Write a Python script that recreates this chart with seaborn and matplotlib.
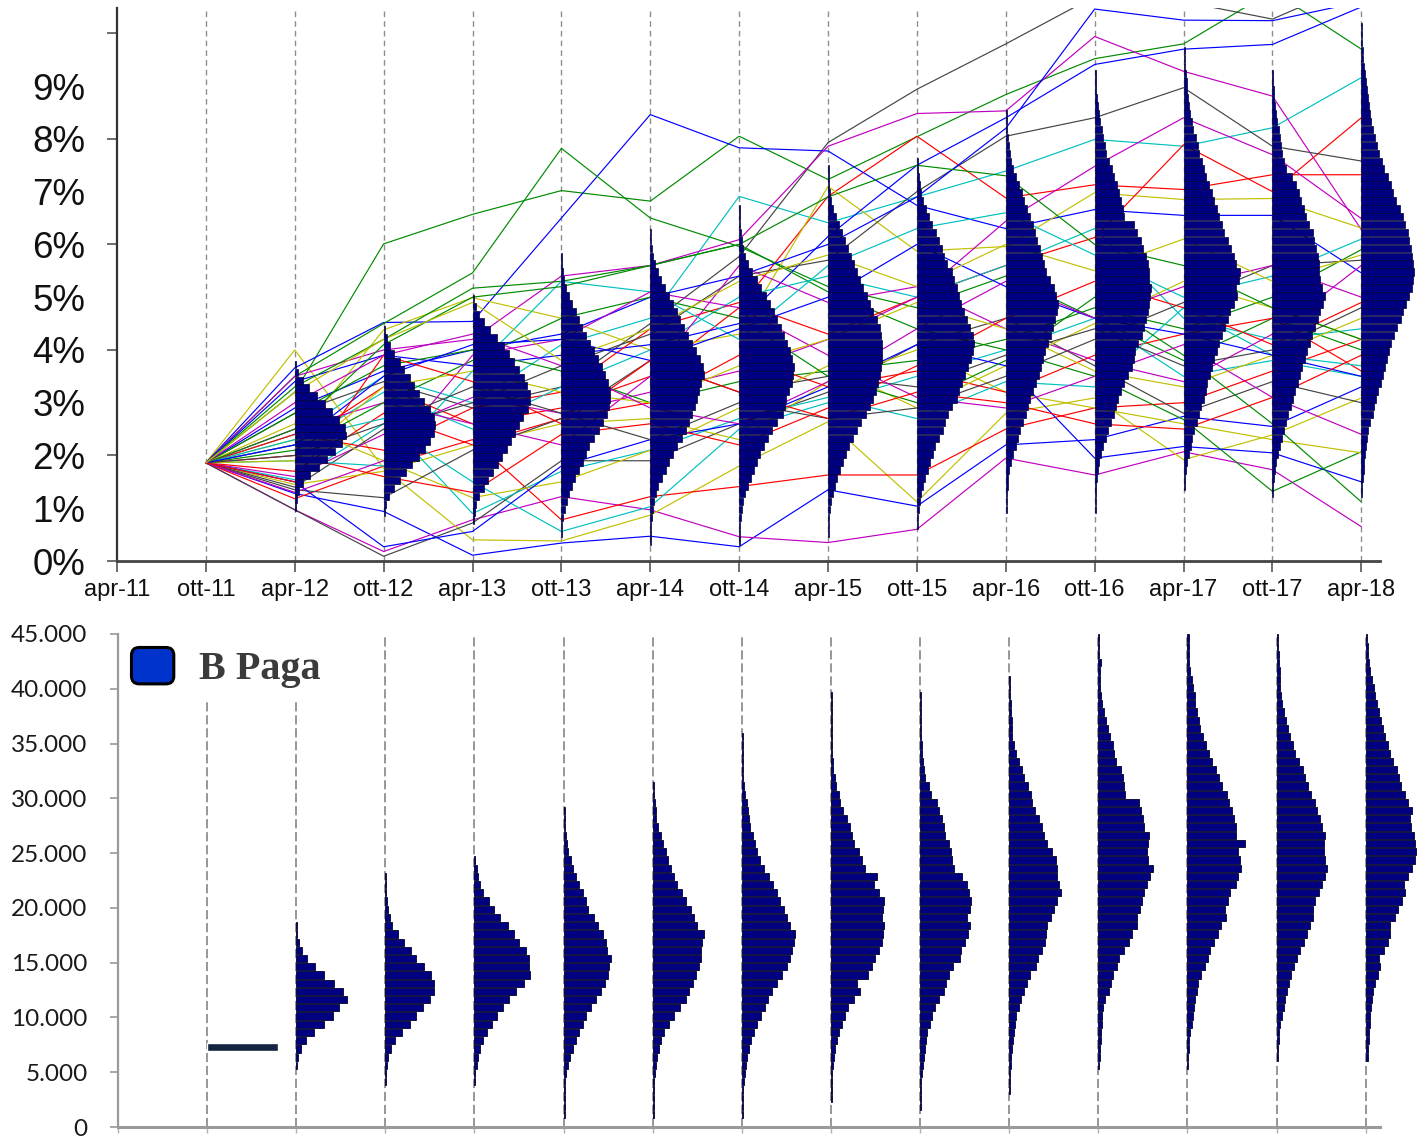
import matplotlib
matplotlib.use("Agg")
import matplotlib.pyplot as plt
from matplotlib.patches import FancyBboxPatch, Patch
from matplotlib.legend_handler import HandlerPatch
import numpy as np
import pandas as pd
import seaborn as sns

# ---------------- data ----------------
dates = ["apr-11", "ott-11", "apr-12", "ott-12", "apr-13", "ott-13", "apr-14", "ott-14",
         "apr-15", "ott-15", "apr-16", "ott-16", "apr-17", "ott-17", "apr-18"]
start_rate = 1.86  # every path starts here at ott-11

# simulated rate paths (%), values at apr-12 ... apr-18
paths_blue = [
    [1.28, 0.94, 0.11, 0.34, 0.47, 0.27, 1.35, 1.04, 2.20, 2.30, 2.74, 2.55, 3.30],
    [3.66, 4.52, 4.54, 6.50, 8.46, 7.83, 7.77, 6.74, 6.30, 6.66, 6.55, 6.55, 5.46],
    [3.40, 3.90, 3.70, 3.90, 4.10, 4.50, 6.15, 7.50, 8.40, 9.41, 9.70, 9.79, 10.5],
    [2.90, 3.60, 4.00, 4.30, 5.00, 5.40, 6.00, 6.90, 8.20, 10.46, 10.25, 10.24, 10.6],
    [1.50, 0.27, 0.56, 1.80, 2.30, 2.60, 3.30, 4.10, 3.70, 1.95, 2.17, 2.05, 1.50],
    [2.20, 3.50, 4.10, 4.20, 3.80, 4.40, 5.00, 6.00, 5.20, 4.60, 4.30, 3.90, 3.50],
]
paths_green = [
    [3.20, 6.01, 6.57, 7.02, 6.82, 8.05, 7.23, 8.04, 8.84, 9.52, 9.80, 10.8, 9.70],
    [3.50, 4.50, 5.46, 7.82, 6.50, 5.96, 5.20, 4.80, 5.40, 4.60, 3.80, 4.60, 4.00],
    [3.30, 4.20, 5.17, 5.30, 5.60, 6.00, 5.10, 4.40, 4.00, 3.50, 2.68, 1.32, 2.07],
    [2.80, 3.70, 4.00, 3.60, 3.00, 3.40, 3.60, 3.80, 4.20, 4.80, 4.40, 5.00, 5.90],
    [2.10, 3.00, 3.80, 4.60, 5.00, 4.60, 3.50, 3.00, 3.80, 5.00, 3.90, 2.60, 1.12],
    [2.50, 4.10, 5.00, 5.20, 5.60, 6.00, 6.90, 7.50, 7.30, 6.00, 5.60, 4.80, 4.20],
]
paths_red = [
    [2.20, 3.30, 2.60, 2.90, 3.50, 4.80, 6.91, 8.05, 6.88, 7.13, 7.04, 7.32, 7.32],
    [1.18, 1.80, 2.30, 0.78, 1.22, 1.41, 1.63, 1.63, 2.50, 2.90, 3.00, 3.60, 4.20],
    [2.40, 2.10, 2.90, 3.20, 4.40, 4.90, 4.30, 5.00, 5.60, 6.13, 7.89, 7.00, 8.40],
    [1.70, 2.80, 2.20, 2.70, 3.00, 3.90, 3.30, 3.60, 3.20, 3.90, 4.30, 4.60, 3.60],
    [2.00, 1.60, 1.30, 2.40, 2.60, 2.20, 2.90, 3.70, 4.60, 5.30, 4.80, 4.10, 4.90],
    [1.50, 3.90, 3.40, 2.60, 3.80, 3.20, 2.70, 3.20, 3.00, 2.60, 2.50, 3.10, 3.90],
]
paths_cyan = [
    [2.40, 3.50, 3.00, 4.10, 4.60, 6.91, 6.41, 6.90, 7.39, 7.99, 7.86, 8.21, 9.16],
    [1.54, 2.60, 1.50, 0.56, 1.03, 2.50, 3.00, 3.50, 4.00, 4.60, 3.50, 3.80, 3.50],
    [2.20, 3.20, 2.50, 3.30, 4.00, 5.00, 5.40, 5.00, 5.60, 6.30, 4.60, 4.20, 4.40],
    [2.30, 2.70, 0.90, 1.70, 2.10, 2.70, 3.10, 2.70, 3.40, 3.30, 4.80, 3.90, 3.70],
    [1.90, 1.80, 3.60, 5.30, 5.10, 4.20, 5.60, 6.30, 6.60, 5.80, 5.00, 5.40, 6.10],
]
paths_magenta = [
    [0.97, 0.18, 0.78, 1.22, 0.97, 0.46, 0.35, 0.60, 1.95, 1.63, 2.07, 1.73, 0.65],
    [3.50, 4.00, 4.20, 5.40, 5.60, 6.09, 7.86, 8.48, 8.53, 9.94, 9.28, 8.81, 6.28],
    [1.60, 2.40, 3.10, 2.80, 3.20, 3.60, 4.20, 5.00, 6.44, 7.48, 8.40, 7.70, 6.49],
    [2.50, 3.00, 2.60, 2.20, 3.50, 5.60, 4.90, 5.20, 4.40, 3.80, 3.40, 4.30, 5.60],
    [1.30, 1.90, 3.90, 4.20, 5.10, 4.80, 3.90, 3.10, 2.90, 3.50, 4.10, 3.10, 2.40],
    [3.00, 3.90, 4.30, 3.70, 2.90, 2.60, 3.40, 4.40, 5.30, 4.60, 5.20, 5.60, 5.00],
]
paths_yellow = [
    [4.00, 1.76, 0.40, 0.38, 0.87, 1.80, 2.64, 1.12, 2.80, 3.09, 1.92, 2.39, 3.09],
    [2.30, 4.38, 4.99, 4.60, 4.00, 4.30, 7.10, 5.87, 5.96, 6.98, 6.85, 6.87, 6.31],
    [1.45, 1.70, 2.20, 2.60, 2.70, 2.30, 3.40, 4.00, 3.20, 2.90, 2.60, 2.30, 2.05],
    [2.60, 1.90, 1.20, 1.50, 2.10, 2.90, 3.70, 2.90, 3.70, 4.50, 5.30, 4.80, 4.20],
    [1.90, 3.30, 3.60, 3.20, 3.00, 3.70, 4.20, 4.90, 4.40, 3.60, 3.30, 3.90, 4.60],
    [3.20, 4.20, 4.90, 3.80, 4.40, 5.30, 5.80, 5.20, 6.00, 5.50, 6.10, 5.30, 5.80],
]
paths_black = [
    [2.80, 3.40, 2.90, 3.30, 4.50, 5.77, 7.93, 8.94, 9.80, 10.7, 10.6, 10.27, 11.0],
    [0.97, 0.09, 0.72, 1.90, 1.90, 2.60, 3.20, 4.10, 4.60, 3.70, 2.80, 3.40, 3.00],
    [1.40, 2.50, 3.00, 3.70, 4.30, 5.40, 5.70, 7.00, 8.05, 8.40, 8.97, 7.86, 7.58],
    [1.35, 1.20, 2.10, 2.70, 3.80, 3.20, 3.50, 3.30, 3.90, 4.40, 3.70, 4.00, 4.80],
    [2.00, 2.60, 3.30, 2.80, 2.30, 3.00, 2.70, 2.90, 3.50, 4.20, 4.90, 5.60, 5.70],
]

# rate histograms (counts per 0.15% bin, low -> high), apr-12 ... apr-18
rate_bin = 0.15
rate_lo = [0.95, 0.85, 0.70, 0.45, 0.30, 0.30, 0.45, 0.60, 0.90, 0.90, 1.35, 1.20, 1.20]
rate_apr12 = [1, 2, 4, 8, 15, 24, 32, 40, 47, 51, 50, 44, 37, 30, 22, 14, 8, 3, 1]
rate_ott12 = [1, 2, 5, 10, 16, 22, 28, 35, 41, 46, 50, 51, 50, 46, 40, 35, 30, 26, 20, 16, 10, 6, 3, 1]
rate_apr13 = [1, 2, 3, 6, 11, 15, 20, 25, 29, 34, 38, 42, 46, 50, 55, 57, 57, 54, 51, 46, 41, 36, 31, 24,
              17, 11, 6, 3, 1]
rate_ott13 = [1, 1, 2, 4, 6, 8, 11, 14, 18, 22, 25, 28, 33, 38, 42, 46, 48, 49, 49, 47, 44, 41, 37, 33,
              29, 25, 21, 18, 15, 11, 8, 5, 3, 2, 1, 1]
rate_apr14 = [1, 1, 1, 2, 3, 4, 6, 8, 12, 16, 19, 23, 27, 32, 36, 39, 42, 45, 47, 49, 51, 54, 53, 50,
              46, 42, 38, 34, 30, 27, 23, 19, 15, 11, 8, 5, 3, 2, 1, 1]
rate_ott14 = [1, 1, 1, 2, 3, 4, 6, 9, 12, 15, 18, 21, 25, 29, 33, 38, 44, 46, 47, 50, 53, 54, 55, 53,
              51, 48, 45, 42, 38, 35, 31, 27, 22, 18, 13, 9, 6, 4, 3, 2, 1, 1, 1]
rate_apr15 = [1, 1, 1, 2, 3, 5, 7, 9, 12, 15, 18, 21, 25, 29, 33, 38, 42, 45, 48, 50, 52, 53, 54, 54,
              54, 53, 52, 49, 45, 42, 39, 35, 32, 29, 26, 23, 20, 17, 14, 11, 8, 5, 3, 2, 1, 1, 1]
rate_ott15 = [1, 1, 2, 3, 4, 6, 8, 11, 13, 16, 18, 22, 26, 28, 31, 35, 40, 42, 45, 48, 51, 54, 56, 57,
              56, 53, 50, 47, 44, 42, 40, 37, 35, 30, 27, 25, 22, 19, 15, 12, 9, 6, 4, 3, 2, 1, 1]
rate_apr16 = [1, 1, 1, 2, 2, 3, 5, 7, 10, 12, 14, 17, 20, 22, 24, 27, 30, 33, 35, 37, 39, 42, 45, 47,
              49, 51, 52, 50, 48, 44, 40, 38, 36, 34, 31, 29, 27, 24, 21, 18, 16, 13, 10, 7, 5, 4,
              3, 2, 1, 1, 1]
rate_ott16 = [1, 1, 1, 1, 2, 3, 4, 6, 8, 11, 13, 16, 19, 21, 23, 26, 29, 33, 37, 39, 40, 43, 47, 49,
              51, 53, 54, 55, 56, 54, 54, 53, 51, 48, 46, 42, 39, 29, 28, 26, 24, 22, 19, 17, 14, 11,
              10, 8, 7, 5, 4, 3, 2, 1, 1, 1]
rate_apr17 = [1, 1, 2, 3, 5, 7, 8, 10, 13, 15, 17, 20, 22, 23, 26, 28, 30, 33, 35, 38, 41, 44, 46, 50,
              53, 52, 55, 56, 52, 50, 47, 44, 40, 38, 35, 33, 30, 28, 25, 22, 20, 18, 15, 14, 12, 9,
              8, 6, 5, 4, 3, 3, 2, 1, 1, 1]
rate_ott17 = [1, 1, 2, 3, 4, 6, 8, 10, 12, 14, 16, 19, 21, 23, 26, 28, 30, 33, 35, 38, 40, 43, 46, 48,
              51, 53, 50, 48, 47, 47, 46, 44, 42, 41, 37, 34, 32, 29, 27, 24, 20, 14, 12, 10, 9, 8,
              7, 5, 4, 3, 2, 2, 1, 1]
rate_apr18 = [1, 1, 2, 3, 3, 4, 5, 6, 7, 9, 12, 13, 15, 17, 20, 22, 24, 26, 28, 30, 33, 36, 40, 42,
              45, 48, 51, 52, 53, 52, 51, 50, 48, 47, 44, 42, 39, 35, 32, 30, 27, 23, 21, 18, 16, 14,
              12, 10, 9, 8, 7, 6, 5, 4, 3, 2, 2, 1, 1, 1]

# B Paga histograms (counts per 750 bin, low -> high), apr-12 ... apr-18
bpaga_ott11 = 7300
bpaga_bin = 750
bpaga_lo = [5250, 3750, 3750, 750, 750, 750, 2250, 1500, 3000, 5250, 5250, 6000, 6000]
bpaga_apr12 = [1, 2, 5, 10, 18, 28, 37, 43, 51, 47, 38, 28, 19, 11, 6, 3, 1, 1]
bpaga_ott12 = [1, 1, 2, 3, 6, 10, 17, 25, 31, 38, 45, 49, 49, 46, 39, 31, 26, 19, 13, 7, 5, 3, 2, 1, 1, 1]
bpaga_apr13 = [1, 1, 2, 3, 5, 8, 12, 17, 22, 28, 34, 41, 49, 55, 54, 54, 51, 44, 39, 33, 25, 19, 14, 8,
               5, 3, 2, 1]
bpaga_ott13 = [1, 1, 1, 1, 1, 2, 4, 6, 9, 12, 15, 19, 22, 27, 32, 37, 41, 44, 45, 47, 43, 42, 39, 34,
               30, 24, 22, 19, 15, 12, 9, 7, 4, 3, 2, 1, 1, 1]
bpaga_apr14 = [1, 1, 1, 1, 1, 2, 3, 4, 6, 8, 11, 16, 21, 27, 33, 36, 40, 43, 46, 48, 48, 49, 51, 44,
               41, 38, 33, 29, 24, 21, 18, 15, 13, 10, 8, 5, 3, 3, 2, 1, 1]
bpaga_ott14 = [1, 1, 1, 1, 2, 3, 4, 5, 7, 9, 12, 15, 19, 23, 26, 30, 35, 40, 45, 48, 50, 52, 53, 48,
               45, 42, 38, 35, 31, 27, 22, 18, 15, 13, 11, 8, 7, 6, 5, 3, 2, 1, 1, 1, 1, 1, 1]
bpaga_apr15 = [1, 1, 1, 1, 2, 3, 4, 6, 8, 11, 14, 17, 23, 29, 26, 37, 41, 44, 48, 51, 52, 53, 51, 52,
               53, 48, 43, 46, 34, 31, 28, 23, 21, 19, 16, 12, 9, 8, 5, 4, 2, 2, 1, 1, 1, 1, 1, 1, 1, 1]
bpaga_ott15 = [1, 1, 1, 1, 2, 3, 4, 5, 6, 7, 10, 12, 15, 19, 24, 26, 29, 33, 40, 41, 45, 48, 50, 47,
               50, 51, 49, 47, 42, 34, 32, 31, 29, 25, 24, 22, 19, 17, 11, 9, 5, 4, 3, 2, 2, 1, 1, 1,
               1, 1, 1]
bpaga_apr16 = [1, 1, 1, 2, 2, 3, 4, 5, 6, 7, 10, 12, 15, 18, 21, 27, 29, 33, 36, 37, 38, 42, 45, 48,
               52, 50, 48, 48, 47, 43, 38, 35, 33, 30, 26, 23, 22, 19, 15, 13, 10, 7, 5, 3, 3, 3, 2,
               2, 1, 1, 1]
bpaga_ott16 = [1, 2, 2, 3, 3, 4, 4, 5, 7, 11, 13, 15, 19, 21, 26, 31, 34, 39, 39, 42, 44, 46, 49, 52,
               54, 50, 49, 50, 51, 46, 45, 43, 41, 27, 26, 25, 23, 18, 16, 15, 12, 10, 8, 6, 4, 3, 2,
               2, 2, 3, 1, 1, 1]
bpaga_apr17 = [1, 1, 2, 2, 3, 4, 5, 6, 7, 9, 10, 13, 17, 20, 22, 26, 30, 33, 38, 37, 40, 42, 48, 50,
               53, 52, 50, 57, 48, 48, 46, 44, 41, 39, 34, 31, 28, 24, 21, 18, 15, 12, 11, 9, 7, 7, 5,
               4, 3, 2, 2, 2, 2]
bpaga_ott17 = [1, 1, 2, 2, 3, 5, 7, 8, 10, 12, 14, 17, 20, 23, 27, 30, 33, 36, 36, 38, 42, 45, 48, 50,
               48, 47, 47, 48, 45, 43, 40, 38, 34, 31, 28, 26, 22, 18, 16, 13, 11, 9, 7, 5, 4, 3, 3,
               3, 2, 2, 1, 1]
bpaga_apr18 = [2, 2, 3, 3, 4, 4, 5, 6, 7, 9, 12, 14, 13, 18, 22, 24, 24, 29, 32, 36, 39, 38, 42, 46,
               49, 50, 49, 48, 45, 44, 46, 42, 39, 35, 33, 31, 27, 24, 22, 19, 17, 15, 13, 11, 9, 8,
               6, 4, 3, 2, 2, 1]

rate_hists = [rate_apr12, rate_ott12, rate_apr13, rate_ott13, rate_apr14, rate_ott14, rate_apr15,
              rate_ott15, rate_apr16, rate_ott16, rate_apr17, rate_ott17, rate_apr18]
bpaga_hists = [bpaga_apr12, bpaga_ott12, bpaga_apr13, bpaga_ott13, bpaga_apr14, bpaga_ott14,
               bpaga_apr15, bpaga_ott15, bpaga_apr16, bpaga_ott16, bpaga_apr17, bpaga_ott17, bpaga_apr18]

# ---------------- style ----------------
sns.set_style("white")
plt.rcParams["font.family"] = ["Liberation Sans", "DejaVu Sans"]

W, H = 1424, 1138
fig = plt.figure(figsize=(W / 100, H / 100), dpi=100)
ax1 = fig.add_axes([117 / W, 1 - 561 / H, (1380 - 117) / W, (561 - 8) / H])
ax2 = fig.add_axes([118 / W, 1 - 1127 / H, (1380 - 118) / W, (1127 - 634) / H])

color_groups = [
    ("b", paths_blue, "#0000ff"),
    ("g", paths_green, "#008a00"),
    ("r", paths_red, "#ff0000"),
    ("c", paths_cyan, "#00c0c0"),
    ("m", paths_magenta, "#c000c0"),
    ("y", paths_yellow, "#c0c000"),
    ("k", paths_black, "#444444"),
]

# ---------------- top panel: paths ----------------
rows, palette, order = [], {}, []
max_n = max(len(g[1]) for g in color_groups)
for j in range(max_n):
    for key, plist, col in color_groups:
        if j < len(plist):
            pid = f"{key}{j}"
            palette[pid] = col
            order.append(pid)
            for k, v in enumerate([start_rate] + plist[j]):
                rows.append((pid, k + 1, v))
df = pd.DataFrame(rows, columns=["path", "t", "rate"])

for k in range(1, 15):
    ax1.axvline(k, color="#8e8e8e", lw=1.0, ls=(0, (4, 3)), zorder=1)

sns.lineplot(data=df, x="t", y="rate", hue="path", hue_order=order, palette=palette,
             legend=False, estimator=None, sort=False, lw=0.85, ax=ax1, zorder=2)

px_per_step = 88.9
for i, (lo, counts) in enumerate(zip(rate_lo, rate_hists)):
    c = np.asarray(counts, dtype=float)
    centers = lo + rate_bin * (np.arange(len(c)) + 0.5)
    bars = ax1.barh(centers, c / px_per_step, height=rate_bin * 0.95, left=i + 2,
                    color="#000080", edgecolor="#00003a", linewidth=0.5, zorder=3)
    for b in bars:
        b.set_clip_on(False)

ax1.set_xlim(0, 14.21)
ax1.set_ylim(0, 10.48)
ax1.set_xlabel("")
ax1.set_ylabel("")
ax1.set_xticks(range(15))
ax1.set_xticklabels(dates, fontsize=17, color="#111111")
ax1.set_yticks([0, 2, 4, 6, 8, 10])
ax1.set_yticklabels(["0%", "2%", "4%", "6%", "8%", ""], fontsize=26.5, color="#111111")
ax1.set_yticks([1, 3, 5, 7, 9], minor=True)
ax1.set_yticklabels(["1%", "3%", "5%", "7%", "9%"], minor=True, fontsize=26.5, color="#111111")
ax1.tick_params(axis="x", which="major", bottom=True, direction="out", length=8, width=1.2,
                color="#555555", pad=5)
ax1.tick_params(axis="y", which="major", left=True, direction="out", length=7.5, width=1.2,
                color="#555555", pad=15.5)
ax1.tick_params(axis="y", which="minor", left=True, labelleft=True, length=0, pad=23)
for s in ["top", "right"]:
    ax1.spines[s].set_visible(False)
ax1.spines["left"].set_color("#333333")
ax1.spines["left"].set_linewidth(1.6)
ax1.spines["bottom"].set_color("#444444")
ax1.spines["bottom"].set_linewidth(2.0)

# ---------------- bottom panel: B Paga ----------------
for k in range(1, 15):
    ax2.axvline(k, color="#7a7a7a", lw=1.1, ls=(0, (6, 2.5)), zorder=1)

ax2.barh([bpaga_ott11], [0.8], height=760, left=1, color="#14253f", zorder=3)
for i, (lo, counts) in enumerate(zip(bpaga_lo, bpaga_hists)):
    c = np.asarray(counts, dtype=float)
    centers = lo + bpaga_bin * (np.arange(len(c)) + 0.5)
    bars = ax2.barh(centers, c / px_per_step, height=bpaga_bin * 0.88, left=i + 2,
                    color="#000080", edgecolor="#000030", linewidth=0.6, zorder=3)
    for b in bars:
        b.set_clip_on(False)

ax2.set_xlim(0, 14.16)
ax2.set_ylim(0, 45000)
yt = list(range(0, 45001, 5000))
ax2.set_yticks(yt)
ax2.set_yticklabels([f"{v:,}".replace(",", ".") for v in yt], fontsize=17.5,
                    family=["Lato", "DejaVu Sans"], color="#1a1a1a")
ax2.set_xticks(range(15))
ax2.set_xticklabels([])
ax2.tick_params(axis="y", left=True, direction="out", length=6, width=1.2, color="#9a9a9a", pad=16)
ax2.tick_params(axis="x", bottom=True, direction="out", length=4, width=1.0, color="#b0b0b0")
for s in ["top", "right"]:
    ax2.spines[s].set_visible(False)
ax2.spines["left"].set_color("#9a9a9a")
ax2.spines["left"].set_linewidth(1.6)
ax2.spines["bottom"].set_color("#9a9a9a")
ax2.spines["bottom"].set_linewidth(2.2)


class HandlerRoundSquare(HandlerPatch):
    def create_artists(self, legend, orig_handle, xdescent, ydescent, width, height,
                       fontsize, trans):
        p = FancyBboxPatch((-xdescent + 1, -ydescent + 1), width - 2, height - 2,
                           boxstyle=f"round,pad=0,rounding_size={0.2 * height}",
                           facecolor=orig_handle.get_facecolor(), edgecolor="black",
                           linewidth=2.2, transform=trans)
        return [p]


handle = Patch(facecolor="#0033cc", edgecolor="black")
leg = ax2.legend(handles=[handle], labels=["B Paga"], loc="upper left", bbox_to_anchor=(0, 1),
                 borderaxespad=0, frameon=True, fancybox=False, framealpha=1,
                 edgecolor="white", facecolor="white", handlelength=1.12, handleheight=1.12,
                 handletextpad=0.6, borderpad=0.3,
                 prop=dict(family=["Liberation Serif", "DejaVu Serif"], weight="bold", size=29),
                 handler_map={Patch: HandlerRoundSquare()})
for t in leg.get_texts():
    t.set_color("#3b3b3b")
leg.set_zorder(2.4)  # above dashed lines, below the spines

fig.savefig("out.png", dpi=100, facecolor="white")
